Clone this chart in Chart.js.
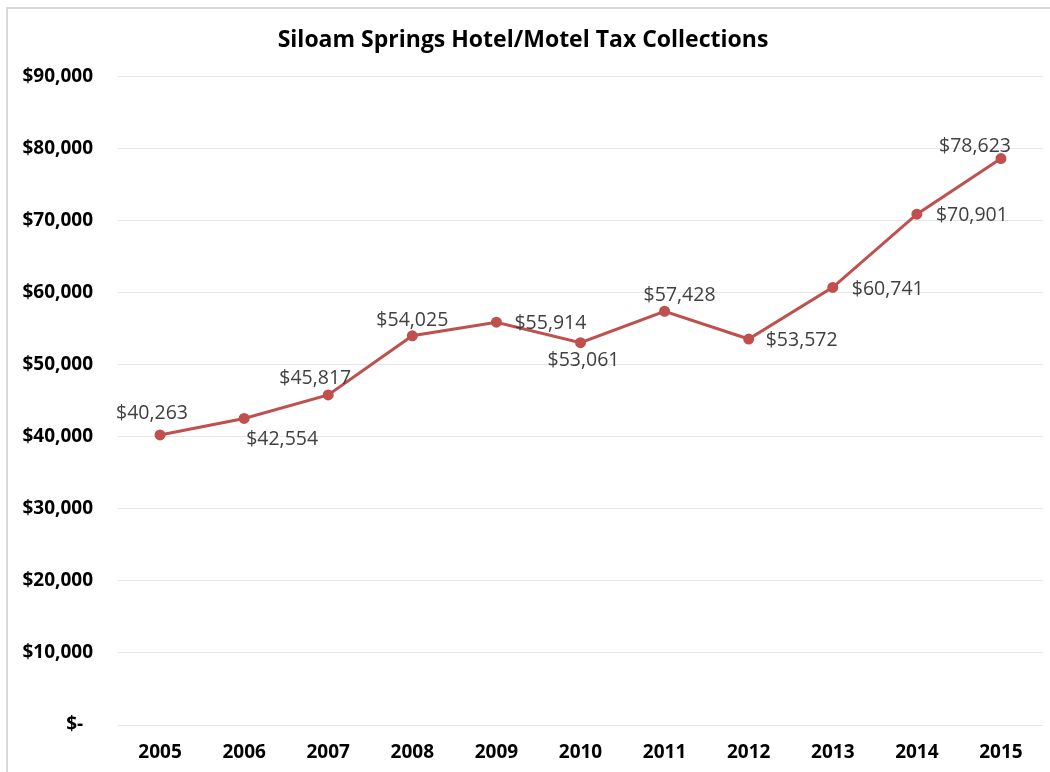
<!DOCTYPE html>
<html>
<head>
<meta charset="utf-8">
<script src="https://cdn.jsdelivr.net/npm/chart.js@4"></script>
<style>
  html, body { margin: 0; padding: 0; background: #fff; }
  #wrap {
    position: absolute; left: 0; top: 0; width: 1050px; height: 772px;
  }
  #frame {
    position: absolute; left: 6px; top: 7px; width: 1044px; height: 765px;
    border-top: 2px solid #d9d9d9; border-left: 2px solid #d9d9d9; box-sizing: border-box;
  }
  canvas { position: absolute; left: 0; top: 0; }
</style>
</head>
<body>
<div id="wrap">
  <div id="frame"></div>
  <canvas id="chart" width="1050" height="772"></canvas>
</div>
<script>
const years = ['2005', '2006', '2007', '2008', '2009', '2010', '2011', '2012', '2013', '2014', '2015'];
const collections = [40263, 42554, 45817, 54025, 55914, 53061, 57428, 53572, 60741, 70901, 78623];
const yTicks = [0, 10000, 20000, 30000, 40000, 50000, 60000, 70000, 80000, 90000];

// where each value label sits relative to its point (pixels)
const labelOffsets = [
    [-8, -21], [38, 21], [-13, -16], [0, -15], [54, 1], [3, 18],
    [15, -16], [53, 1], [55, 2], [55, 1], [-26, -12]
];

function money(v) {
    if (v === 0) return '$-  ';
    return '$' + v.toLocaleString('en-US');
}

const valueLabels = {
    id: 'valueLabels',
    afterDatasetsDraw(chart) {
        const ctx = chart.ctx;
        const meta = chart.getDatasetMeta(0);
        ctx.save();
        ctx.font = '19.5px "Open Sans"';
        ctx.fillStyle = '#404040';
        ctx.textAlign = 'center';
        ctx.textBaseline = 'middle';
        meta.data.forEach((pt, i) => {
            const off = labelOffsets[i];
            ctx.fillText(money(collections[i]), pt.x + off[0], pt.y + off[1]);
        });
        ctx.restore();
    }
};

new Chart(document.getElementById('chart').getContext('2d'), {
    type: 'line',
    data: {
        labels: years,
        datasets: [{
            data: collections,
            borderColor: '#C0504D',
            backgroundColor: '#C0504D',
            borderWidth: 3,
            pointRadius: 4,
            pointHoverRadius: 4,
            tension: 0,
            fill: false
        }]
    },
    options: {
        responsive: false,
        animation: false,
        layout: { padding: { top: 0, right: 4, bottom: 0, left: 0 } },
        plugins: {
            legend: { display: false },
            tooltip: { enabled: false },
            title: {
                display: true,
                text: 'Siloam Springs Hotel/Motel Tax Collections',
                color: '#000',
                font: { family: '"Open Sans"', size: 23, weight: 'bold' },
                padding: { top: 27, bottom: 22 }
            }
        },
        scales: {
            x: {
                offset: true,
                grid: { display: false, drawTicks: false },
                border: { display: false },
                ticks: {
                    color: '#000',
                    font: { family: '"Open Sans"', size: 19, weight: 'bold' },
                    padding: 16,
                    maxRotation: 0
                },
                afterFit(scale) { scale.height = 47; }
            },
            y: {
                min: 0,
                max: 90000,
                afterBuildTicks(scale) {
                    scale.ticks = yTicks.map(v => ({ value: v }));
                },
                grid: { color: '#e6e6e6', lineWidth: 1, drawTicks: false },
                border: { display: false },
                ticks: {
                    color: '#000',
                    font: { family: '"Open Sans"', size: 19, weight: 'bold' },
                    padding: 25,
                    callback: v => money(v)
                },
                afterFit(scale) { scale.width = 118; }
            }
        }
    },
    plugins: [valueLabels]
});
</script>
</body>
</html>
